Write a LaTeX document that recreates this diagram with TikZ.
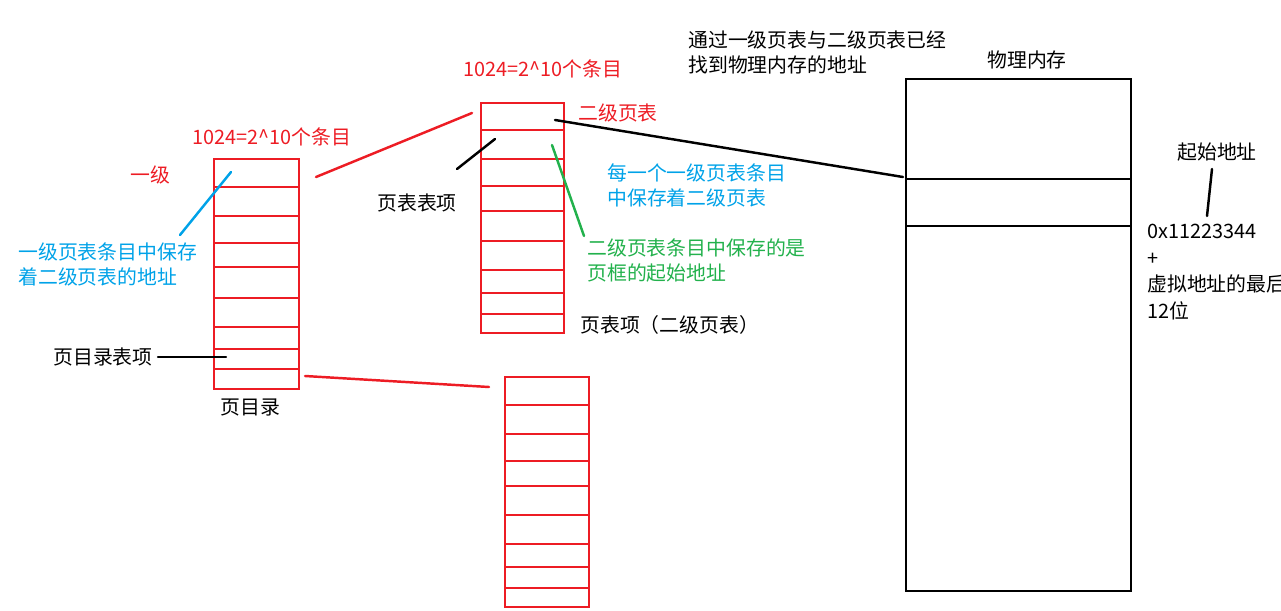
\documentclass[tikz,border=0pt]{standalone}
\usepackage{fontspec}
\setmainfont{Noto Sans CJK SC}
\usepackage{tkz-euclide}
\definecolor{TabClr}{RGB}{237,28,36}
\definecolor{NoteBlue}{RGB}{0,162,232}
\definecolor{NoteGreen}{RGB}{34,177,76}

\begin{document}
\begin{tikzpicture}[x=0.02cm,y=-0.02cm,
  lbl/.style={anchor=west,inner sep=0pt,align=left,
    font=\fontsize{11.3}{14.2}\selectfont},
  tab/.style={TabClr,line width=1.4pt}]
\useasboundingbox (0,0) rectangle (1281,611);
\tkzSetUpLine[line width=1pt,color=black]

\tkzDefPoints{316/177/DirUp,472/113/PtUp,305/376/DirDn,489/387/PtDn,
  231/172/BlueTip,180/235/BlueEnd,226/357/PdeTip,158/357/PdeEnd,
  495/139/PteTip,457/169/PteEnd,552/145/GrnTip,584/236/GrnEnd,
  555/120/PteOut,903/177/MemIn,1212/169/AddrUp,1207/216/AddrDn}

% page directory
\draw[tab] (214,159) rectangle (299,389);
\foreach \y in {187,216,243,267,298,327,349,369}
  \draw[tab] (214,\y) -- (299,\y);

% second level page table (upper)
\draw[tab] (481,103) rectangle (564,333);
\foreach \y in {130,159,186,211,241,270,293,314}
  \draw[tab] (481,\y) -- (564,\y);

% second level page table (lower)
\draw[tab] (505,377) rectangle (589,607);
\foreach \y in {405,434,461,486,515,544,567,588}
  \draw[tab] (505,\y) -- (589,\y);

% physical memory
\draw[line width=1.6pt] (906,79) rectangle (1131,591);
\draw[line width=1.6pt] (906,179) -- (1131,179) (906,226) -- (1131,226);

\tkzDrawSegments[tab](DirUp,PtUp DirDn,PtDn)
\tkzDrawSegments[NoteBlue,line width=1.4pt](BlueTip,BlueEnd)
\tkzDrawSegments[NoteGreen,line width=1.4pt](GrnTip,GrnEnd)
\tkzDrawSegments[line width=1.4pt](PdeTip,PdeEnd PteTip,PteEnd PteOut,MemIn AddrUp,AddrDn)

\node[lbl,TabClr] (cntDir) at (192,137) {1024=2\textasciicircum10个条目};
\node[lbl,TabClr] (lvlOne) at (130,175) {一级};
\node[lbl,NoteBlue] (noteDir) at (18,264.5) {一级页表条目中保存\\着二级页表的地址};
\node[lbl] (pdeName) at (53,357) {页目录表项};
\node[lbl] (dirName) at (220,408) {页目录};
\node[lbl,TabClr] (cntPt) at (463,69) {1024=2\textasciicircum10个条目};
\node[lbl,TabClr] (lvlTwo) at (578,113) {二级页表};
\node[lbl] (pteName) at (377,203) {页表表项};
\node[lbl,NoteBlue] (notePt) at (607,185) {每一个一级页表条目\\中保存着二级页表};
\node[lbl,NoteGreen] (noteFrame) at (587,260.5) {二级页表条目中保存的是\\页框的起始地址};
\node[lbl] (ptName) at (580,325) {页表项（二级页表）};
\node[lbl] (noteFound) at (688,52) {通过一级页表与二级页表已经\\找到物理内存的地址};
\node[lbl] (memName) at (987,60) {物理内存};
\node[lbl] (addrName) at (1177,152) {起始地址};
\node[lbl,font=\fontsize{11.3}{15.1}\selectfont] (addrCalc) at (1147,272)
  {0x11223344\\+\\虚拟地址的最后\\12位};

\end{tikzpicture}
\end{document}
